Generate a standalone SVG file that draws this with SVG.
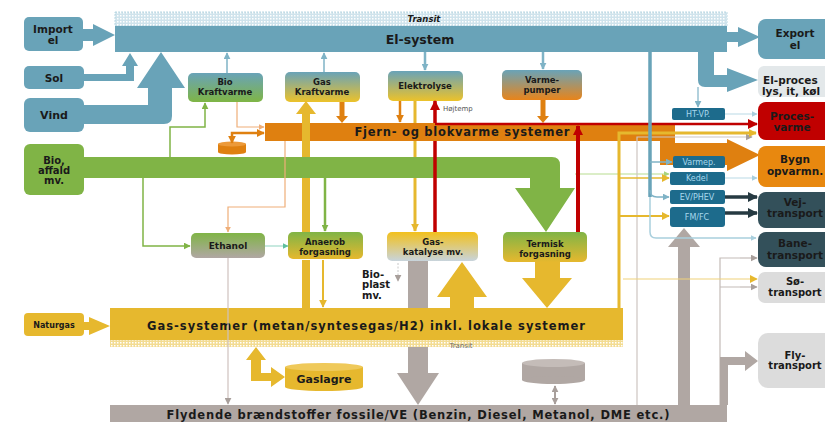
<svg xmlns="http://www.w3.org/2000/svg" width="825" height="422" viewBox="0 0 825 422">
<style>
.b{font-family:"DejaVu Sans","Liberation Sans",sans-serif;font-weight:bold;fill:#1a1a1a;text-anchor:middle}
.s{font-family:"DejaVu Sans","Liberation Sans",sans-serif;fill:#a8d8ec;text-anchor:middle;font-size:8px}
.blk{fill:#69a3b8}
.tb{fill:#1d6b8c}
.ln{fill:none}
</style>
<defs>
<pattern id="hb" width="3" height="3" patternUnits="userSpaceOnUse"><rect width="3" height="3" fill="#cfe3ec"/><rect width="1.5" height="1.5" fill="#fff"/></pattern>
<pattern id="hy" width="3" height="3" patternUnits="userSpaceOnUse"><rect width="3" height="3" fill="#f3dc92"/><rect width="1.5" height="1.5" fill="#fff"/></pattern>
<linearGradient id="gBlueGreen" x1="0" y1="0" x2="0" y2="1"><stop offset="0" stop-color="#69a3b8"/><stop offset="1" stop-color="#7fb545"/></linearGradient>
<linearGradient id="gBlueGold" x1="0" y1="0" x2="0" y2="1"><stop offset="0" stop-color="#69a3b8"/><stop offset="1" stop-color="#ecc22a"/></linearGradient>
<linearGradient id="gBlueOrange" x1="0" y1="0" x2="0" y2="1"><stop offset="0" stop-color="#69a3b8"/><stop offset="1" stop-color="#e8841a"/></linearGradient>
<linearGradient id="gGreenGray" x1="0" y1="0" x2="0" y2="1"><stop offset="0" stop-color="#80b446"/><stop offset="1" stop-color="#b0a7a3"/></linearGradient>
<linearGradient id="gGreenGold" x1="0" y1="0" x2="0" y2="1"><stop offset="0" stop-color="#80b446"/><stop offset="1" stop-color="#e6b82e"/></linearGradient>
<linearGradient id="gGoldGray" x1="0" y1="0" x2="0" y2="1"><stop offset="0" stop-color="#f2c01c"/><stop offset="1" stop-color="#c8d4dc"/></linearGradient>
<marker id="mB" viewBox="0 0 10 10" refX="9" refY="5" markerWidth="7" markerHeight="7" markerUnits="userSpaceOnUse" orient="auto"><path d="M0,0L10,5L0,10z" fill="#7fb3c6"/></marker>
<marker id="mLB" viewBox="0 0 10 10" refX="9" refY="5" markerWidth="6" markerHeight="6" markerUnits="userSpaceOnUse" orient="auto"><path d="M0,0L10,5L0,10z" fill="#a9cfdd"/></marker>
<marker id="mO" viewBox="0 0 10 10" refX="9" refY="5" markerWidth="8" markerHeight="8" markerUnits="userSpaceOnUse" orient="auto-start-reverse"><path d="M0,0L10,5L0,10z" fill="#df8010"/></marker>
<marker id="mLO" viewBox="0 0 10 10" refX="9" refY="5" markerWidth="6" markerHeight="6" markerUnits="userSpaceOnUse" orient="auto"><path d="M0,0L10,5L0,10z" fill="#efae78"/></marker>
<marker id="mY" viewBox="0 0 10 10" refX="9" refY="5" markerWidth="8" markerHeight="8" markerUnits="userSpaceOnUse" orient="auto"><path d="M0,0L10,5L0,10z" fill="#e6b82e"/></marker>
<marker id="mR" viewBox="0 0 10 10" refX="9" refY="5" markerWidth="10" markerHeight="10" markerUnits="userSpaceOnUse" orient="auto"><path d="M0,0L10,5L0,10z" fill="#c00000"/></marker>
<marker id="mG" viewBox="0 0 10 10" refX="9" refY="5" markerWidth="7" markerHeight="7" markerUnits="userSpaceOnUse" orient="auto"><path d="M0,0L10,5L0,10z" fill="#80b446"/></marker>
<marker id="mLG" viewBox="0 0 10 10" refX="9" refY="5" markerWidth="6" markerHeight="6" markerUnits="userSpaceOnUse" orient="auto"><path d="M0,0L10,5L0,10z" fill="#a9d47d"/></marker>
<marker id="mT" viewBox="0 0 10 10" refX="9" refY="5" markerWidth="6" markerHeight="6" markerUnits="userSpaceOnUse" orient="auto"><path d="M0,0L10,5L0,10z" fill="#5fc09e"/></marker>
<marker id="mGr" viewBox="0 0 10 10" refX="9" refY="5" markerWidth="7" markerHeight="7" markerUnits="userSpaceOnUse" orient="auto-start-reverse"><path d="M0,0L10,5L0,10z" fill="#a89f9b"/></marker>
<marker id="mD" viewBox="0 0 10 10" refX="9" refY="5" markerWidth="10" markerHeight="10" markerUnits="userSpaceOnUse" orient="auto"><path d="M0,0L10,5L0,10z" fill="#263a42"/></marker>
</defs>
<rect width="825" height="422" fill="#fff"/>

<g id="nodes">
<g id="import-el"><rect x="24" y="17" width="59" height="34" rx="5" class="blk"/><text class="b" x="53" y="33" font-size="10.5">Import</text><text class="b" x="53" y="44" font-size="10.5">el</text></g>
<g id="sol"><rect x="24" y="66" width="60" height="23" rx="5" class="blk"/><text class="b" x="54" y="82" font-size="10.5">Sol</text></g>
<g id="vind"><rect x="24" y="98" width="60" height="34" rx="6" class="blk"/><text class="b" x="54" y="119" font-size="11">Vind</text></g>
<g id="bio"><rect x="24" y="144" width="60" height="51" rx="6" fill="#80b446"/><text class="b" x="54" y="164" font-size="10">Bio,</text><text class="b" x="54" y="174" font-size="10">affald</text><text class="b" x="54" y="184" font-size="10">mv.</text></g>
<g id="naturgas"><rect x="24" y="313" width="60" height="23" rx="4" fill="#e6b82e"/><text class="b" x="54" y="328" font-size="8">Naturgas</text></g>

<g id="el-system"><rect x="115" y="12" width="612" height="14" fill="url(#hb)" stroke="#a9cfdd" stroke-width="0.8" stroke-dasharray="2 1"/><rect x="115" y="26" width="612" height="26" class="blk"/><text class="b" x="424" y="22" font-size="8.5" font-style="italic">Transit</text><text class="b" x="420" y="44" font-size="12.5">El-system</text></g>

<g id="bio-kraftvarme"><rect x="188" y="73" width="75" height="29" rx="5" fill="url(#gBlueGreen)"/><text class="b" x="225" y="85" font-size="8.5">Bio</text><text class="b" x="225" y="95" font-size="8.5">Kraftvarme</text></g>
<g id="gas-kraftvarme"><rect x="285" y="72" width="75" height="30" rx="5" fill="url(#gBlueGold)"/><text class="b" x="322" y="85" font-size="8.5">Gas</text><text class="b" x="322" y="95" font-size="8.5">Kraftvarme</text></g>
<g id="elektrolyse"><rect x="388" y="71" width="75" height="30" rx="5" fill="url(#gBlueGold)"/><text class="b" x="425" y="89" font-size="8.5">Elektrolyse</text></g>
<g id="varmepumper"><rect x="502" y="70" width="80" height="30" rx="5" fill="url(#gBlueOrange)"/><text class="b" x="542" y="83" font-size="8.5">Varme-</text><text class="b" x="542" y="93" font-size="8.5">pumper</text></g>

<g id="fjernvarme"><path d="M265,123H675V143H727V139L760,155L727,171V165H660V141H265Z" fill="#df8010"/><text class="b" x="462" y="136" font-size="11.5" textLength="215">Fjern- og blokvarme systemer</text></g>
<g id="varmelager"><rect x="218" y="144" width="28" height="8" fill="#df8010"/><ellipse cx="232" cy="144" rx="14" ry="2.5" fill="#ec9a3a"/><ellipse cx="232" cy="152" rx="14" ry="2.5" fill="#df8010"/></g>

<g id="ethanol"><rect x="191" y="233" width="74" height="25" rx="5" fill="url(#gGreenGray)"/><text class="b" x="228" y="249" font-size="9">Ethanol</text></g>
<g id="anaerob"><rect x="288" y="232" width="75" height="27" rx="5" fill="url(#gGreenGold)"/><text class="b" x="325" y="245" font-size="8.5">Anaerob</text><text class="b" x="325" y="255" font-size="8.5">forgasning</text></g>
<g id="gas-katalyse"><rect x="387" y="232" width="91" height="29" rx="5" fill="url(#gGoldGray)"/><text class="b" x="433" y="245" font-size="8.5">Gas-</text><text class="b" x="433" y="255" font-size="8.5">katalyse mv.</text></g>
<g id="termisk"><rect x="503" y="232" width="84" height="30" rx="5" fill="url(#gGreenGold)"/><text class="b" x="545" y="247" font-size="8.5">Termisk</text><text class="b" x="545" y="257" font-size="8.5">forgasning</text></g>
<g id="bioplast"><text class="b" x="362" y="278" font-size="10" style="text-anchor:start">Bio-</text><text class="b" x="362" y="288" font-size="10" style="text-anchor:start">plast</text><text class="b" x="362" y="299" font-size="10" style="text-anchor:start">mv.</text></g>

<g id="gas-systemer"><rect x="110" y="308" width="513" height="32" fill="#e6b82e"/><rect x="110" y="340" width="513" height="7" fill="url(#hy)"/><text class="b" x="366" y="330" font-size="11.5" textLength="438">Gas-systemer (metan/syntesegas/H2) inkl. lokale systemer</text><text x="461" y="348" font-family="DejaVu Sans, sans-serif" font-size="7" fill="#6b6b6b" text-anchor="middle">Transit</text></g>
<g id="gaslagre"><rect x="285" y="367" width="78" height="20" fill="#e6b82e"/><ellipse cx="324" cy="387" rx="39" ry="4" fill="#e6b82e"/><ellipse cx="324" cy="367" rx="39" ry="4" fill="#efc95a"/><text class="b" x="324" y="383" font-size="11">Gaslagre</text></g>
<g id="lager"><rect x="522" y="363" width="63" height="17" fill="#b0a7a3"/><ellipse cx="553.5" cy="380" rx="31.5" ry="4" fill="#b0a7a3"/><ellipse cx="553.5" cy="363" rx="31.5" ry="4" fill="#c4bcb8"/></g>
<g id="flydende"><rect x="110" y="405" width="617" height="17" fill="#b0a7a3"/><text class="b" x="418" y="419" font-size="11.5" textLength="503">Flydende brændstoffer fossile/VE (Benzin, Diesel, Metanol, DME etc.)</text></g>

<g id="ht-vp"><rect x="672" y="108" width="53" height="12" rx="2" class="tb"/><text class="s" x="698" y="117">HT-VP.</text></g>
<g id="varmep"><rect x="673" y="156" width="52" height="12" rx="2" class="tb"/><text class="s" x="699" y="165">Varmep.</text></g>
<g id="kedel"><rect x="670" y="172" width="55" height="13" rx="2" class="tb"/><text class="s" x="697" y="181">Kedel</text></g>
<g id="ev-phev"><rect x="670" y="190" width="55" height="14" rx="2" class="tb"/><text class="s" x="697" y="200">EV/PHEV</text></g>
<g id="fm-fc"><rect x="670" y="207" width="55" height="20" rx="3" class="tb"/><text class="s" x="697" y="220">FM/FC</text></g>

<g id="export-el"><rect x="758" y="19" width="80" height="40" rx="8" class="blk"/><text class="b" x="795" y="37" font-size="10.5">Export</text><text class="b" x="795" y="49" font-size="10.5">el</text></g>
<g id="el-proces"><rect x="758" y="66" width="80" height="31" rx="6" fill="#e3e8ea"/><text class="b" x="763" y="84" font-size="10.5" style="text-anchor:start">El-proces</text><text class="b" x="762" y="95" font-size="10.5" style="text-anchor:start">lys, it, køl</text></g>
<g id="proces-varme"><rect x="758" y="102" width="80" height="38" rx="8" fill="#c00000"/><text class="b" x="792" y="120" font-size="10.5">Proces-</text><text class="b" x="792" y="131" font-size="10.5">varme</text></g>
<g id="bygn"><rect x="758" y="146" width="80" height="41" rx="8" fill="#e8880f"/><text class="b" x="795" y="163" font-size="10.5">Bygn</text><text class="b" x="795" y="175" font-size="10.5">opvarmn.</text></g>
<g id="vej"><rect x="758" y="192" width="80" height="36" rx="8" fill="#33505a"/><text class="b" x="795" y="206" font-size="10.5">Vej-</text><text class="b" x="795" y="217" font-size="10.5">transport</text></g>
<g id="bane"><rect x="758" y="232" width="80" height="35" rx="8" fill="#33505a"/><text class="b" x="795" y="247" font-size="10.5">Bane-</text><text class="b" x="795" y="259" font-size="10.5">transport</text></g>
<g id="so"><rect x="758" y="272" width="80" height="31" rx="7" fill="#dcdcdc"/><text class="b" x="795" y="285" font-size="10">Sø-</text><text class="b" x="795" y="296" font-size="10">transport</text></g>
<g id="fly"><rect x="758" y="333" width="80" height="55" rx="10" fill="#dcdcdc"/><text class="b" x="795" y="359" font-size="10">Fly-</text><text class="b" x="795" y="369" font-size="10">transport</text></g>
</g>

<g id="connectors">
<polygon class="blk" points="83,29 93,29 93,24 115,35 93,46 93,41 83,41"/>
<polygon class="blk" points="84,74 126,74 126,66 122,66 130,53 138,66 134,66 134,81 84,81"/>
<path class="blk" d="M84,105H148V88H137L161,52L185,88H172V116Q172,124 164,124H84Z"/>
<polygon class="blk" points="727,32 738,32 738,27 760,37 738,47 738,42 727,42"/>
<path class="blk" d="M698,52H714V75H727V68L758,80L727,92V87H705Q698,87 698,80Z"/>
<path d="M84,157H552Q560,157 560,165V188H575L546,232L515,188H530V178H84Z" fill="#80b446"/>
<path class="ln" d="M227,73V53" stroke="#7fb3c6" stroke-width="1.5" marker-end="url(#mB)"/>
<path class="ln" d="M324,72V53" stroke="#7fb3c6" stroke-width="1.5" marker-end="url(#mB)"/>
<path class="ln" d="M425,52V70" stroke="#7fb3c6" stroke-width="2.5" marker-end="url(#mB)"/>
<path class="ln" d="M543,52V69" stroke="#7fb3c6" stroke-width="2.5" marker-end="url(#mB)"/>
<path class="ln" d="M698,87V107" stroke="#7fb3c6" stroke-width="1.2" marker-end="url(#mB)"/>
<path class="ln" d="M342,102V117" stroke="#df8010" stroke-width="5"/><polygon points="336,116 348,116 342,123" fill="#df8010"/>
<path class="ln" d="M543,100V117" stroke="#df8010" stroke-width="5"/><polygon points="537,116 549,116 543,123" fill="#df8010"/>
<path class="ln" d="M400,101V122" stroke="#df8010" stroke-width="2.5" marker-end="url(#mO)"/>
<path class="ln" d="M232,143V133H264" stroke="#df8010" stroke-width="2.5" marker-start="url(#mO)" marker-end="url(#mO)"/>
<path class="ln" d="M237,102V127H264" stroke="#efae78" stroke-width="1.2" marker-end="url(#mLO)"/>
<path class="ln" d="M285,141V207H228V232" stroke="#efae78" stroke-width="1.2" marker-end="url(#mLO)"/>
<path class="ln" d="M170,157V127H205V103" stroke="#80b446" stroke-width="1.5" marker-end="url(#mG)"/>
<path class="ln" d="M143,178V246H190" stroke="#80b446" stroke-width="1.5" marker-end="url(#mG)"/>
<path class="ln" d="M325,178V231" stroke="#80b446" stroke-width="2.5" marker-end="url(#mG)"/>
<path class="ln" d="M575,174H669" stroke="#b7dc8f" stroke-width="1" marker-end="url(#mLG)"/>
<path class="ln" d="M265,246H288" stroke="#8fd3bf" stroke-width="1" marker-end="url(#mT)"/>
<rect x="302" y="260" width="8" height="48" fill="#e6b82e"/>
<rect x="302" y="178" width="8" height="54" fill="#e6b82e"/>
<rect x="302" y="113" width="8" height="44" fill="#e6b82e"/>
<polygon points="296,114 316,114 306,101" fill="#e6b82e"/>
<path class="ln" d="M323,260V307" stroke="#e6b82e" stroke-width="2" marker-end="url(#mY)"/>
<path class="ln" d="M415,101V123M415,141V157" stroke="#e6b82e" stroke-width="3"/>
<path class="ln" d="M415,178V231" stroke="#e6b82e" stroke-width="3" marker-end="url(#mY)"/>
<polygon points="450,308 450,297 437,297 462,262 487,297 474,297 474,308" fill="#e6b82e"/>
<polygon points="535,262 560,262 560,278 572,278 547,308 522,278 535,278" fill="#e6b82e"/>
<path d="M256,347L266,360H261V373H271V367L285,377L271,387V381H251V360H246Z" fill="#e6b82e"/>
<polygon points="84,322 89,322 89,317 110,326 89,335 89,330 84,330" fill="#e6b82e"/>
<path class="ln" d="M228,258V404" stroke="#cfc2be" stroke-width="1.2" marker-end="url(#mGr)"/>
<path class="ln" d="M637,405V137H752" stroke="#cdc5c1" stroke-width="1.2" marker-end="url(#mGr)"/>
<path class="ln" d="M720,405V258H740M720,287H740" stroke="#c4bbb7" stroke-width="1.2"/>
<path class="ln" d="M740,258H757" stroke="#c4bbb7" stroke-width="1.2" marker-end="url(#mGr)"/>
<path class="ln" d="M740,287H757" stroke="#c4bbb7" stroke-width="1.2" marker-end="url(#mGr)"/>
<polygon points="678,405 678,247 668,247 684,228 700,247 690,247 690,405" fill="#b0a7a3"/>
<rect x="408" y="261" width="20" height="47" fill="#b0a7a3"/>
<polygon points="408,347 428,347 428,373 439,373 418,405 397,373 408,373" fill="#b0a7a3"/>
<path class="ln" d="M555,386V404" stroke="#a89f9b" stroke-width="2" marker-start="url(#mGr)" marker-end="url(#mGr)"/>
<polygon points="720,405 720,357 745,357 745,351 758,361 745,371 745,365 728,365 728,405" fill="#b0a7a3"/>
<path class="ln" d="M398,263V281" stroke="#c8c8c8" stroke-width="1" stroke-dasharray="2 1.5" marker-end="url(#mGr)"/>
<path class="ln" d="M435,232V141" stroke="#c00000" stroke-width="3.5"/>
<path class="ln" d="M435,123V101" stroke="#c00000" stroke-width="3.5" marker-end="url(#mR)"/>
<path class="ln" d="M435,124H757" stroke="#c00000" stroke-width="2.5" marker-end="url(#mR)"/>
<path class="ln" d="M578,232V126" stroke="#c00000" stroke-width="4" marker-end="url(#mR)"/>
<text x="443" y="111" font-family="DejaVu Sans, sans-serif" font-size="7" fill="#555">Højtemp</text>
<path class="ln" d="M619,308V133H756" stroke="#e6b82e" stroke-width="3" marker-end="url(#mY)"/>
<path class="ln" d="M619,178H669" stroke="#e6b82e" stroke-width="1.5" marker-end="url(#mY)"/>
<path class="ln" d="M619,216H669" stroke="#e6b82e" stroke-width="2" marker-end="url(#mY)"/>
<path class="ln" d="M623,279H757" stroke="#efd27a" stroke-width="1.2" marker-end="url(#mY)"/>
<path class="ln" d="M650,52V197" stroke="#69a3b8" stroke-width="3.5"/>
<path class="ln" d="M650,197V232Q650,238 656,238H756" stroke="#a9cfdd" stroke-width="1.5" marker-end="url(#mLB)"/>
<path class="ln" d="M650,162H672" stroke="#7fb3c6" stroke-width="1.5" marker-end="url(#mB)"/>
<path class="ln" d="M650,190Q650,197 657,197H669" stroke="#7fb3c6" stroke-width="1.5" marker-end="url(#mB)"/>
<path class="ln" d="M725,114H757" stroke="#b9d9e5" stroke-width="1" marker-end="url(#mLB)"/>
<path class="ln" d="M725,178H757" stroke="#b9d9e5" stroke-width="1" marker-end="url(#mLB)"/>
<path class="ln" d="M725,197H757" stroke="#263a42" stroke-width="3.5" marker-end="url(#mD)"/>
<path class="ln" d="M725,213H757" stroke="#263a42" stroke-width="3.5" marker-end="url(#mD)"/>
</g>
</svg>
